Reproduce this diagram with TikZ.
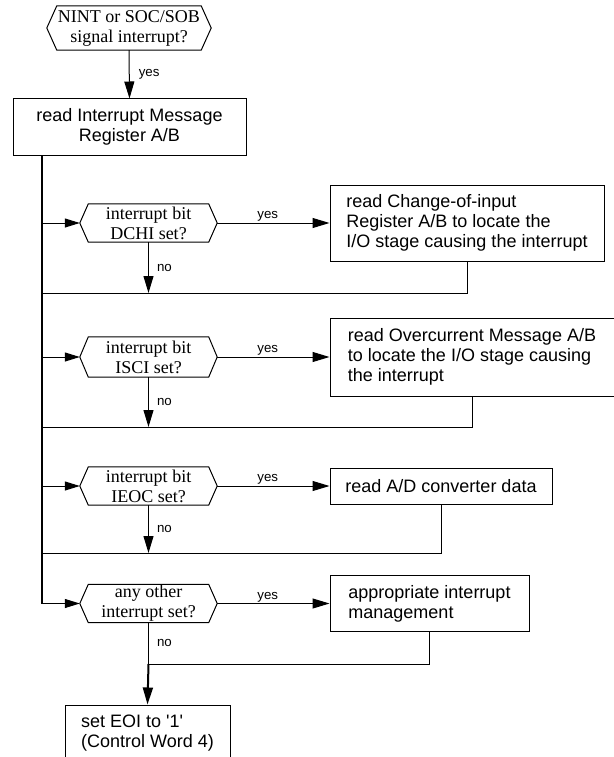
\documentclass[tikz,border=0pt]{standalone}
\usepackage{fontspec}
\setmainfont{Liberation Serif}
\newfontfamily\arialf{Liberation Sans}
\usetikzlibrary{arrows.meta}
\newcommand\hexoutline[2]{\draw[hexline] (#1.west) -- ([xshift=#2]#1.north west) -- ([xshift=-#2]#1.north east) -- (#1.east) -- ([xshift=-#2]#1.south east) -- ([xshift=#2]#1.south west) -- cycle;}
\begin{document}
\begin{tikzpicture}[x=1pt,y=-1pt,
  every node/.style={inner sep=0pt},
  box/.style={draw, line width=1pt, font=\arialf\fontsize{18}{20}\selectfont, align=left},
  cbox/.style={box, align=center},
  hex/.style={font=\fontsize{18}{20}\selectfont, align=center, minimum width=137pt, minimum height=38pt},
  hexline/.style={line width=1pt},
  lbl/.style={font=\arialf\fontsize{13.3}{15}\selectfont},
  ln/.style={line width=1pt},
  arr/.style={ln, -{Triangle[length=15pt,width=9pt]}},
  arrb/.style={ln, -{Triangle[length=17pt,width=10pt]}},
  mainln/.style={line width=2pt},
]
\useasboundingbox (0,0) rectangle (613,757);

% nodes
\node[hex, minimum width=164pt, minimum height=44pt] (h0) at (129,28) {NINT or SOC/SOB\\signal interrupt?};
\hexoutline{h0}{10pt}
\node[cbox, minimum width=233pt, minimum height=56pt] (b0) at (129.5,127) {read Interrupt Message\\Register A/B};

\node[hex] (h1) at (148.5,223) {interrupt bit\\DCHI set?};
\hexoutline{h1}{8.5pt}
\node[box, minimum width=274pt, minimum height=76pt] (b1) at (467,223) {read Change-of-input\\Register A/B to locate the\\I/O stage causing the interrupt};

\node[hex, minimum height=40pt] (h2) at (148.5,357) {interrupt bit\\ISCI set?};
\hexoutline{h2}{8.5pt}
\node[box, minimum width=284pt, minimum height=78pt] (b2) at (472,357) {read Overcurrent Message A/B\\to locate the I/O stage causing\\the interrupt};

\node[hex] (h3) at (148.5,486) {interrupt bit\\IEOC set?};
\hexoutline{h3}{8.5pt}
\node[box, minimum width=222pt, minimum height=36pt] (b3) at (441,486) {read A/D converter data};

\node[hex] (h4) at (148.5,603.5) {any other\\interrupt set?};
\hexoutline{h4}{8.5pt}
\node[box, minimum width=199pt, minimum height=56pt] (b4) at (429.5,603.5) {appropriate interrupt\\management};

\node[box, minimum width=165pt, minimum height=56pt] (b5) at (147.5,733) {set EOI to \textquotesingle1\textquotesingle\\(Control Word 4)};

% coordinates
\coordinate (mtop) at (42,155);
\coordinate (mbot) at (42,603.5);
\coordinate (r1) at (42,293);
\coordinate (r2) at (42,427);
\coordinate (r3) at (42,553);
\coordinate (r4) at (148.5,664);

% top
\draw[arrb] (h0.south) -- node[lbl, right=9pt]{yes} (b0.north);

% main line
\draw[mainln] (mtop) -- (mbot);
\draw[arr] (mtop |- h1.west) -- (h1.west);
\draw[arr] (mtop |- h2.west) -- (h2.west);
\draw[arr] (mtop |- h3.west) -- (h3.west);
\draw[arr] (mbot) -- (h4.west);

% yes branches
\draw[arrb] (h1.east) -- node[lbl, above=1pt, pos=0.45]{yes} (b1.west);
\draw[arrb] (h2.east) -- node[lbl, above=1pt, pos=0.45]{yes} (b2.west);
\draw[arrb] (h3.east) -- node[lbl, above=1pt, pos=0.45]{yes} (b3.west);
\draw[arrb] (h4.east) -- node[lbl, above=1pt, pos=0.45]{yes} (b4.west);

% no branches
\draw[arrb] (h1.south) -- node[lbl, right=8pt]{no} (h1.south |- r1);
\draw[arrb] (h2.south) -- node[lbl, right=8pt]{no} (h2.south |- r2);
\draw[arrb] (h3.south) -- node[lbl, right=8pt]{no} (h3.south |- r3);
\draw[ln] (h4.south) -- node[lbl, right=8pt]{no} (r4);

% returns
\draw[ln] (b1.south) -- (b1.south |- r1) -- (r1);
\draw[ln] (b2.south) -- (b2.south |- r2) -- (r2);
\draw[ln] (b3.south) -- (b3.south |- r3) -- (r3);
\draw[ln] (b4.south) -- (b4.south |- r4) -- (r4);

% final
\draw[mainln, -{Triangle[length=17pt,width=10pt]}] (r4) -- (b5.north);
\end{tikzpicture}
\end{document}
